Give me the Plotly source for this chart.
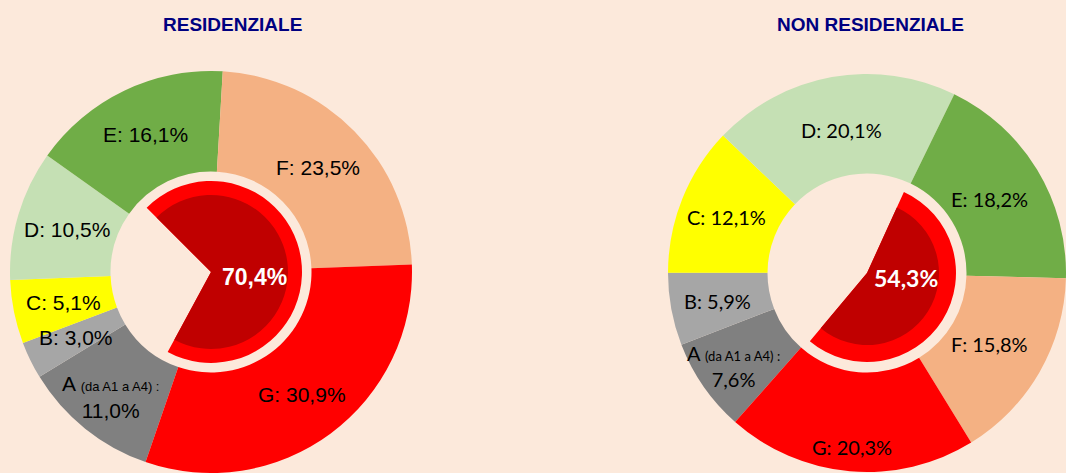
import math
import plotly.graph_objects as go

W, H = 1066, 473
BG = "#FCE9DB"

# ---- data ----
classes = ["A", "B", "C", "D", "E", "F", "G"]
res_values = [11.0, 3.0, 5.1, 10.5, 16.1, 23.5, 30.9]
nonres_values = [7.6, 5.9, 12.1, 20.1, 18.2, 15.8, 20.3]
res_share_efg = 70.4
nonres_share_efg = 54.3
titles = ["RESIDENZIALE", "NON RESIDENZIALE"]

# ---- styles ----
class_colors = ["#808080", "#A6A6A6", "#FFFF00", "#C5E0B4", "#70AD47", "#F4B183", "#FF0000"]
res_label_radius = [0.80, 0.745, 0.75, 0.745, 0.76, 0.745, 0.76]
nonres_label_radius = [0.82, 0.765, 0.76, 0.73, 0.72, 0.71, 0.88]


def fmt(v):
    return f"{v:.1f}".replace(".", ",") + "%"


def slice_label(c, v, small):
    if c == "A":
        return f"A <span style='font-size:{small}px'>(da A1 a A4) :</span><br>{fmt(v)}"
    return f"{c}: {fmt(v)}"


def domain(cx, cy, r):
    x0 = max(0.0, (cx - r) / W)
    x1 = min(1.0, (cx + r) / W)
    y0 = max(0.0, (H - cy - r) / H)
    y1 = min(1.0, (H - cy + r) / H)
    return dict(x=[x0, x1], y=[y0, y1])


fig = go.Figure()

charts = [
    dict(vals=res_values, share=res_share_efg, cx=211, cy=272, r=201, rot=199,
         inner_rot=315, r_red=91, r_dark=77, font="Liberation Sans, Arial, sans-serif",
         fsize=21, small=13, lrad=res_label_radius,
         title_x=232, pct_x=254, pct_y=277),
    dict(vals=nonres_values, share=nonres_share_efg, cx=867, cy=273, r=199, rot=221.5,
         inner_rot=24.5, r_red=89, r_dark=72, font="Lato, Calibri, sans-serif",
         fsize=20, small=13, lrad=nonres_label_radius,
         title_x=870, pct_x=906, pct_y=278),
]

for i, c in enumerate(charts):
    # outer ring: energy classes
    fig.add_trace(go.Pie(
        values=c["vals"], labels=classes, textinfo="none",
        marker=dict(colors=class_colors, line=dict(width=0)),
        hole=0.5, sort=False, direction="clockwise", rotation=c["rot"],
        domain=domain(c["cx"], c["cy"], c["r"]), hoverinfo="skip", showlegend=False,
    ))
    inner_vals = [c["share"], 100 - c["share"]]
    # red ring of E+F+G share
    fig.add_trace(go.Pie(
        values=inner_vals, labels=["E+F+G", "altro"], textinfo="none",
        marker=dict(colors=["#FF0000", "rgba(0,0,0,0)"], line=dict(width=0)),
        sort=False, direction="clockwise", rotation=c["inner_rot"],
        domain=domain(c["cx"], c["cy"], c["r_red"]), hoverinfo="skip", showlegend=False,
    ))
    # dark red core
    fig.add_trace(go.Pie(
        values=inner_vals, labels=["E+F+G", "altro"], textinfo="none",
        marker=dict(colors=["#C00000", "rgba(0,0,0,0)"], line=dict(width=0)),
        sort=False, direction="clockwise", rotation=c["inner_rot"],
        domain=domain(c["cx"], c["cy"], c["r_dark"]), hoverinfo="skip", showlegend=False,
    ))

    # slice labels at each slice's mid-angle (derived from the data)
    total = sum(c["vals"])
    start = c["rot"]
    for cls, v, f in zip(classes, c["vals"], c["lrad"]):
        span = 360.0 * v / total
        mid = math.radians(start + span / 2)
        start += span
        px = c["cx"] + f * c["r"] * math.sin(mid)
        py = c["cy"] - f * c["r"] * math.cos(mid)
        fig.add_annotation(
            x=px / W, y=(H - py) / H, xref="paper", yref="paper",
            xanchor="center", yanchor="middle",
            text=slice_label(cls, v, c["small"]), showarrow=False,
            font=dict(family=c["font"], size=c["fsize"], color="black"),
        )

    fig.add_annotation(
        x=c["pct_x"] / W, y=(H - c["pct_y"]) / H, xref="paper", yref="paper",
        xanchor="center", yanchor="middle",
        text=f"<b>{fmt(c['share'])}</b>", showarrow=False,
        font=dict(family=c["font"], size=23, color="white"),
    )
    fig.add_annotation(
        x=c["title_x"] / W, y=(H - 24) / H, xref="paper", yref="paper",
        xanchor="center", yanchor="middle",
        text=f"<b>{titles[i]}</b>", showarrow=False,
        font=dict(family="Liberation Sans, Arial, sans-serif", size=19, color="#000080"),
    )

fig.update_layout(
    width=W, height=H,
    margin=dict(l=0, r=0, t=0, b=0),
    paper_bgcolor=BG, plot_bgcolor=BG,
)

fig.write_html(
    "out.html",
    config={"displayModeBar": False},
    post_script="document.body.style.margin='0';document.body.style.background='%s';" % BG,
)
